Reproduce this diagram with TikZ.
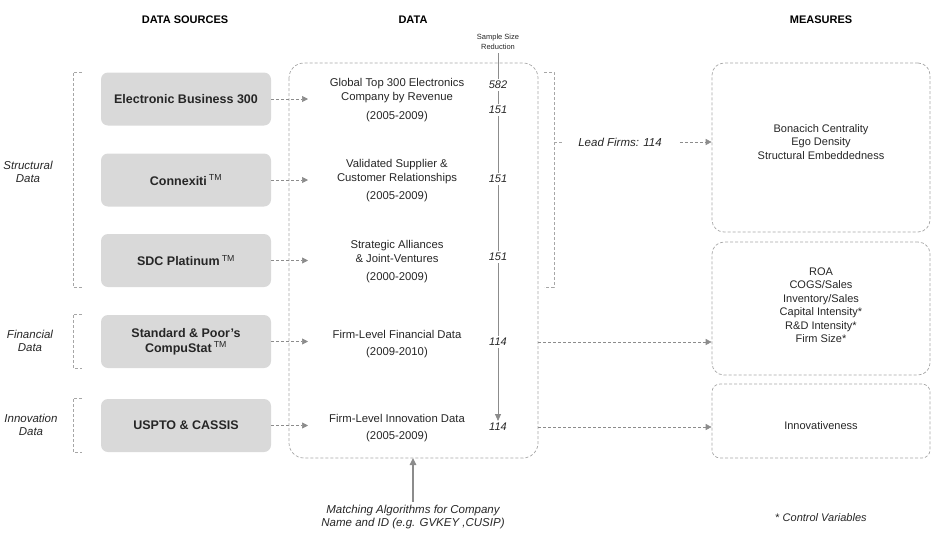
\documentclass[tikz,border=0pt]{standalone}
\usepackage{fontspec}
\setmainfont{Liberation Sans}
\usetikzlibrary{positioning,arrows.meta}
\definecolor{boxgray}{HTML}{D9D9D9}
\definecolor{linegray}{HTML}{A6A6A6}
\definecolor{arrowgray}{HTML}{8C8C8C}
\definecolor{textgray}{HTML}{262626}
\tikzset{
  source/.style={fill=boxgray, rounded corners=7pt, minimum width=170pt, minimum height=53pt, font=\fontsize{12.5}{15}\selectfont\bfseries, text=textgray, align=center},
  datatext/.style={font=\fontsize{11.3}{14}\selectfont, text=textgray, align=center},
  meastext/.style={font=\fontsize{11}{13.5}\selectfont, text=textgray, align=center},
  count/.style={font=\fontsize{11}{13}\selectfont\itshape, text=textgray, inner sep=2pt},
  header/.style={font=\fontsize{11}{13}\selectfont\bfseries},
  sidelabel/.style={font=\fontsize{11.5}{13.5}\selectfont\itshape, text=textgray, align=center},
  dashline/.style={draw=linegray, line width=0.7pt, dash pattern=on 3pt off 2pt},
  dasharrow/.style={dashline, -{Triangle[width=6pt,length=6pt]}, arrowgray},
  bracket/.style={dashline},
  container/.style={dashline, rounded corners=15pt},
  solidarrow/.style={draw=arrowgray, line width=1.1pt, -{Triangle[width=6.5pt,length=7pt]}}
}
\newcommand{\tm}{\,\textsuperscript{\mdseries TM}}
\begin{document}
\begin{tikzpicture}[x=1pt, y=-1pt]

\useasboundingbox (0,0) rectangle (939,541);

\node[header] (hsrc) at (185,20) {DATA SOURCES};
\node[header] (hdata) at (413,20) {DATA};
\node[header] (hmeas) at (821,20) {MEASURES};

\draw[container] (289,63) rectangle (538,458);
\coordinate (dwest) at (289,260);
\coordinate (deast) at (538,260);
\coordinate (dsouth) at (413,458);

\node[source] (ebus) at (186,99) {Electronic Business 300};
\node[source] (connex) at (186,180) {Connexiti\tm};
\node[source] (sdc) at (186,260.5) {SDC Platinum\tm};
\node[source] (compu) at (186,341.5) {Standard \& Poor's\\CompuStat\tm};
\node[source] (uspto) at (186,425.5) {USPTO \& CASSIS};

\node[datatext] (gtop) at (397,100) {Global Top 300 Electronics\\Company by Revenue\\[5pt](2005-2009)};
\node[datatext] (valid) at (397,181) {Validated Supplier \&\\Customer Relationships\\[4pt](2005-2009)};
\node[datatext] (alli) at (397,262) {Strategic Alliances\\\& Joint-Ventures\\[4pt](2000-2009)};
\node[datatext] (fin) at (397,344.5) {Firm-Level Financial Data\\[3pt](2009-2010)};
\node[datatext] (innov) at (397,428) {Firm-Level Innovation Data\\[3pt](2005-2009)};

\coordinate (t1) at (308,99);
\coordinate (t2) at (308,180);
\coordinate (t3) at (308,260.5);
\coordinate (t4) at (308,341.5);
\coordinate (t5) at (308,425.5);
\draw[dasharrow] (ebus.east) -- (t1);
\draw[dasharrow] (connex.east) -- (t2);
\draw[dasharrow] (sdc.east) -- (t3);
\draw[dasharrow] (compu.east) -- (t4);
\draw[dasharrow] (uspto.east) -- (t5);

\node[sidelabel] (lstruct) at (28,172) {Structural\\Data};
\node[sidelabel] (lfin) at (30,341) {Financial\\Data};
\node[sidelabel] (linnov) at (31,425) {Innovation\\Data};
\draw[bracket] (82,72) -- (73,72) -- (73,287) -- (82,287);
\draw[bracket] (82,314) -- (73,314) -- (73,368) -- (82,368);
\draw[bracket] (82,398) -- (73,398) -- (73,452) -- (82,452);

\node[font=\fontsize{7.5}{10}\selectfont, text=textgray, align=center] (ssr) at (498,42) {Sample Size\\Reduction};
\node[count] (n1) at (498,85) {582};
\node[count] (n2) at (498,110) {151};
\node[count] (n3) at (498,179) {151};
\node[count] (n4) at (498,257) {151};
\node[count] (n5) at (498,342) {114};
\node[count] (n6) at (498,427) {114};
\draw[arrowgray, line width=0.8pt] (ssr) -- (n1) -- (n2) -- (n3) -- (n4) -- (n5);
\draw[arrowgray, line width=0.8pt, -{Triangle[width=6pt,length=7pt]}] (n5) -- (n6);

\draw[bracket] (544,72) -- (554,72) -- (554,287) -- (544,287);
\coordinate (btick) at (554,142);
\node[count, font=\fontsize{11.5}{13}\selectfont\itshape] (lead) at (620,142) {Lead Firms: 114};
\draw[bracket] (btick) -- ++(9,0);

\node[dashline, rounded corners=12pt, minimum width=218pt, minimum height=169pt] (mnet) at (821,147.5) {};
\node[dashline, rounded corners=12pt, minimum width=218pt, minimum height=133pt] (mfin) at (821,308.5) {};
\node[dashline, rounded corners=8pt, minimum width=218pt, minimum height=74pt] (minn) at (821,421) {};
\node[meastext] (tnet) at (821,142) {Bonacich Centrality\\Ego Density\\Structural Embeddedness};
\node[meastext] (tfin) at (821,305) {ROA\\COGS/Sales\\Inventory/Sales\\Capital Intensity*\\R\&D Intensity*\\Firm Size*};
\node[meastext] (tinn) at (821,426) {Innovativeness};

\draw[dasharrow] ([xshift=16pt]lead.east) -- (lead -| mnet.west);
\draw[dasharrow] (n5 -| deast) -- (n5 -| mfin.west);
\draw[dasharrow] (n6 -| deast) -- (n6 -| minn.west);

\node[sidelabel, font=\fontsize{11.5}{13}\selectfont\itshape] (match) at (413,517) {Matching Algorithms for Company\\Name and ID (e.g. GVKEY ,CUSIP)};
\draw[solidarrow] (match.north) -- (dsouth);

\node[sidelabel, font=\fontsize{11}{13}\selectfont\itshape] (ctrl) at (821,518) {\textup{*} Control Variables};

\end{tikzpicture}
\end{document}
